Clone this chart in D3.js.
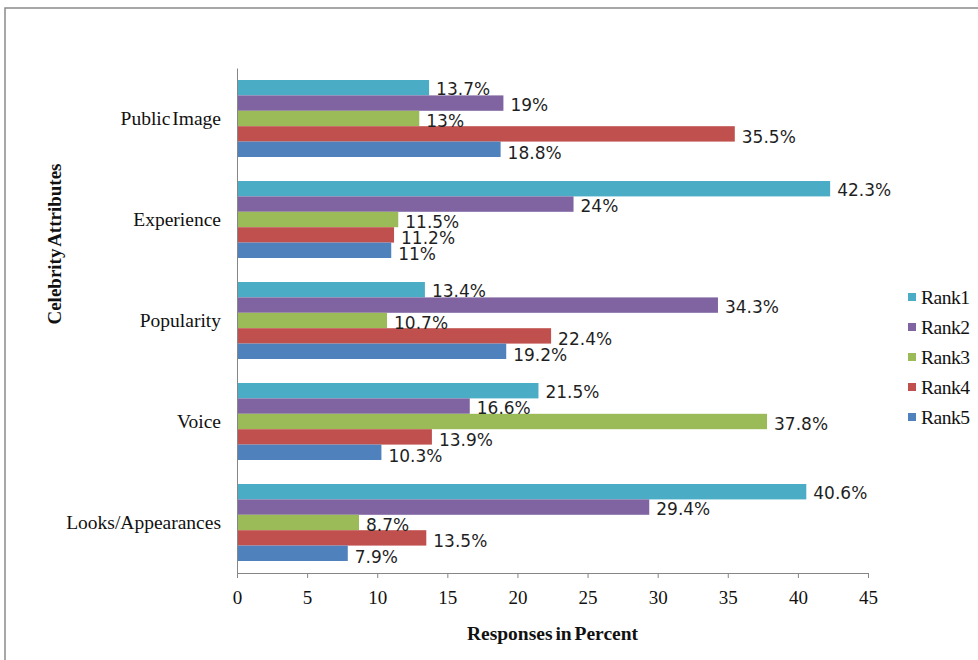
<!DOCTYPE html>
<html>
<head>
<meta charset="utf-8">
<script src="https://cdn.jsdelivr.net/npm/d3@7/dist/d3.min.js"></script>
<style>
  html, body { margin: 0; padding: 0; background: #fff; }
  svg { display: block; }
</style>
</head>
<body>
<svg id="chart" width="978" height="660"></svg>
<script>
// Celebrity attributes ranked by respondents (percent of responses)
const categories = ["Public Image", "Experience", "Popularity", "Voice", "Looks/Appearances"];
const ranks = ["Rank1", "Rank2", "Rank3", "Rank4", "Rank5"];
const rank1 = [13.7, 42.3, 13.4, 21.5, 40.6];
const rank2 = [19, 24, 34.3, 16.6, 29.4];
const rank3 = [13, 11.5, 10.7, 37.8, 8.7];
const rank4 = [35.5, 11.2, 22.4, 13.9, 13.5];
const rank5 = [18.8, 11, 19.2, 10.3, 7.9];
const xTicks = [0, 5, 10, 15, 20, 25, 30, 35, 40, 45];

const seriesValues = [rank1, rank2, rank3, rank4, rank5];
const colors = ["#4BACC6", "#8064A2", "#9BBB59", "#C0504D", "#4F81BD"];

const svg = d3.select("#chart");
const serif = "'Liberation Serif', 'Times New Roman', serif";
const sans = "'DejaVu Sans', Verdana, sans-serif";

// outer frame
svg.append("rect")
  .attr("x", 5).attr("y", 8).attr("width", 990).attr("height", 670)
  .attr("fill", "none").attr("stroke", "#8a8a8a").attr("stroke-width", 1.5);

const plot = { left: 237, right: 868, top: 68, bottom: 573 };

const x = d3.scaleLinear().domain([0, 45]).range([plot.left, plot.right]);
const y = d3.scaleBand().domain(categories).range([plot.top, plot.bottom]).padding(0);
const inner = d3.scaleBand().domain(ranks).range([0, y.bandwidth()])
  .paddingInner(0).paddingOuter(0.78);

// bars
const rows = [];
categories.forEach((c, ci) => {
  ranks.forEach((r, ri) => rows.push({ cat: c, rank: r, ri, value: seriesValues[ri][ci] }));
});

const g = svg.append("g");
g.selectAll("rect.bar").data(rows).enter().append("rect")
  .attr("class", "bar")
  .attr("x", x(0))
  .attr("y", d => y(d.cat) + inner(d.rank))
  .attr("width", d => x(d.value) - x(0))
  .attr("height", inner.bandwidth())
  .attr("fill", d => colors[d.ri]);

// value labels, placed just past the end of each bar
g.selectAll("text.val").data(rows).enter().append("text")
  .attr("class", "val")
  .attr("x", d => x(d.value) + 7)
  .attr("y", d => y(d.cat) + inner(d.rank) + inner.bandwidth() / 2 + 1 + d.ri * 0.8)
  .attr("dominant-baseline", "central")
  .attr("font-family", sans).attr("font-size", 17).attr("fill", "#1f1f1f")
  .text(d => d.value + "%");

// x axis
const xAxis = d3.axisBottom(x).tickValues(xTicks).tickSize(5).tickPadding(13).tickFormat(d3.format("d"));
const xg = svg.append("g").attr("transform", `translate(0,${plot.bottom})`).call(xAxis);
xg.select(".domain").attr("stroke", "#868686");
xg.selectAll(".tick line").attr("stroke", "#868686");
xg.selectAll(".tick text").attr("font-family", serif).attr("font-size", 19).attr("fill", "#111");

// y axis
const yAxis = d3.axisLeft(y).tickSize(0).tickPadding(16);
const yg = svg.append("g").attr("transform", `translate(${plot.left},0)`).call(yAxis);
yg.select(".domain").attr("stroke", "#868686");
yg.selectAll(".tick text").attr("font-family", serif).attr("font-size", 19.5).attr("fill", "#111")
  .attr("word-spacing", "-3px");

// axis titles
svg.append("text")
  .attr("x", (plot.left + plot.right) / 2).attr("y", 640)
  .attr("text-anchor", "middle")
  .attr("font-family", serif).attr("font-size", 19.5).attr("font-weight", "bold").attr("fill", "#111")
  .attr("word-spacing", "-2px")
  .text("Responses in Percent");

svg.append("text")
  .attr("transform", "translate(61,244) rotate(-90)")
  .attr("text-anchor", "middle")
  .attr("font-family", serif).attr("font-size", 19).attr("font-weight", "bold").attr("fill", "#111")
  .attr("word-spacing", "-2px")
  .text("Celebrity Attributes");

// legend
const legend = svg.append("g").attr("transform", "translate(908,297)");
const li = legend.selectAll("g").data(ranks).enter().append("g")
  .attr("transform", (d, i) => `translate(0,${i * 30})`);
li.append("rect").attr("x", 0).attr("y", -4).attr("width", 8).attr("height", 8)
  .attr("fill", (d, i) => colors[i]);
li.append("text").attr("x", 13).attr("y", 0).attr("dominant-baseline", "central")
  .attr("font-family", serif).attr("font-size", 19.5).attr("fill", "#111")
  .attr("letter-spacing", "-0.5px")
  .text(d => d);
</script>
</body>
</html>
